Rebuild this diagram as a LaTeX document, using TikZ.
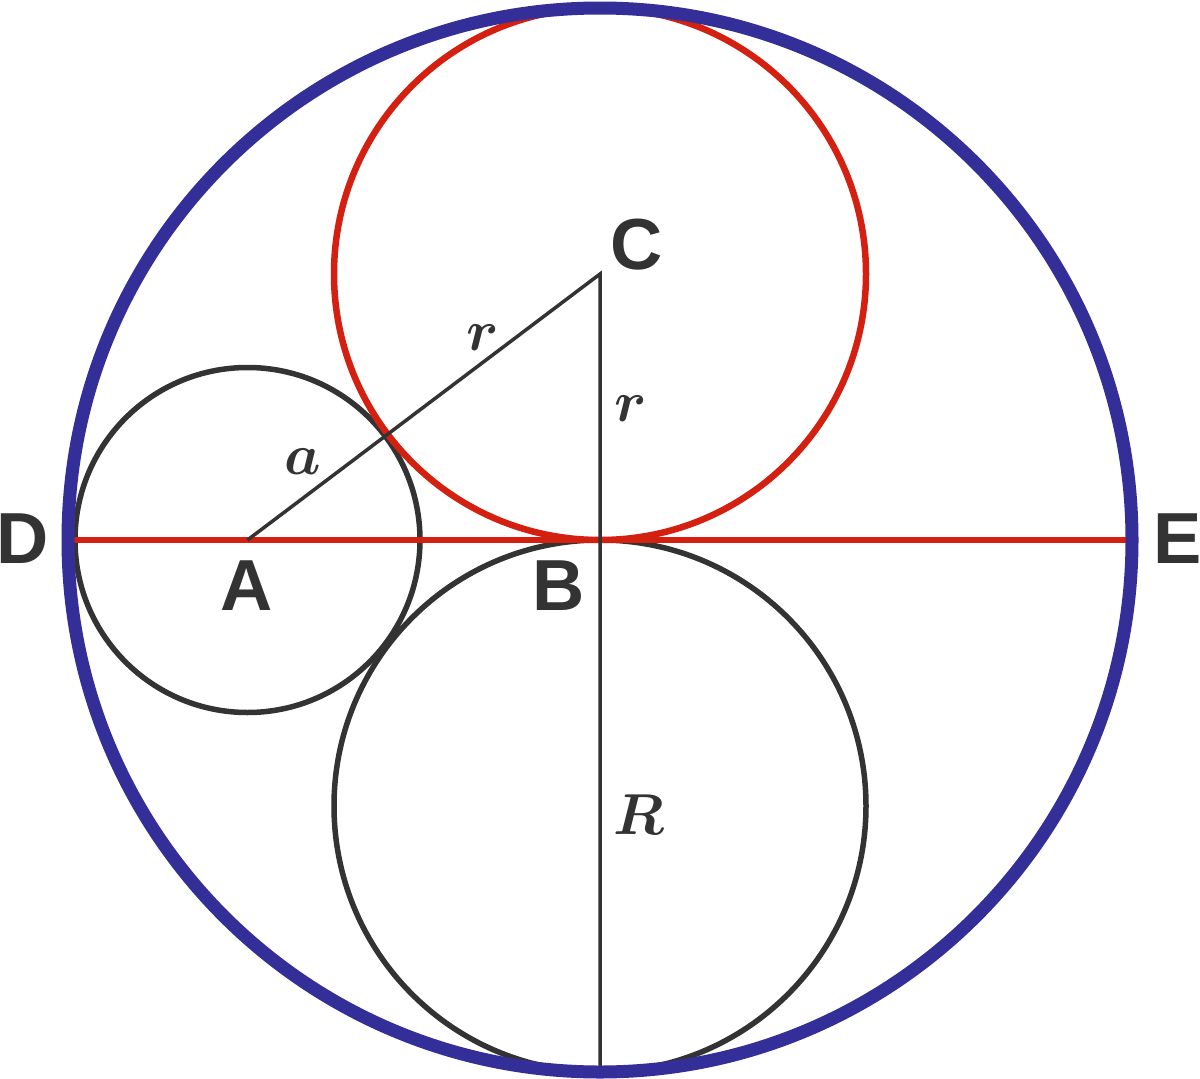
\RequirePackage{fix-cm}
\documentclass[tikz,border=0pt]{standalone}
\usepackage{amsmath,bm}
\usepackage{fontspec}
\newfontfamily\lblfont{Liberation Sans}
\definecolor{bluec}{RGB}{52,46,152}
\definecolor{redc}{RGB}{212,32,16}
\definecolor{ink}{RGB}{51,51,51}
\tikzset{
  bigcircle/.style={draw=bluec, line width=13bp},
  redcircle/.style={draw=redc, line width=6.5bp},
  redline/.style={draw=redc, line width=5.5bp},
  blkcircle/.style={draw=ink, line width=5.5bp},
  thinline/.style={draw=ink, line width=3.5bp},
  lbl/.style={font=\lblfont\bfseries\fontsize{72.6}{80}\selectfont, text=ink, inner sep=0pt},
  mlbl/.style={font=\fontsize{58}{60}\selectfont, text=ink, inner sep=0pt}
}
\begin{document}
\begin{tikzpicture}[x=1bp,y=-1bp]
\useasboundingbox (0,0) rectangle (1200,1079);
\coordinate (O) at (600,540);
\coordinate (A) at (247.5,540);
\coordinate (C) at (600,274);
\coordinate (L) at (600,806);
\coordinate (B) at (600,540);
\coordinate (Dp) at (68,540);
\coordinate (Ep) at (1131,540);
\coordinate (Bot) at (600,1070);
% black circles
\draw[blkcircle] (A) circle (172.5);
\draw[blkcircle] (L) circle (266);
% red diameter and circle
\draw[redline] (Dp) -- (Ep);
\draw[redcircle] (C) circle (266);
% radii
\draw[thinline] (A) -- (C) -- (Bot);
% outer circle
\draw[bigcircle] (O) circle (532);
% labels
\node[lbl] (lA) at (247,586) {A};
\node[lbl] (lB) at (559,586) {B};
\node[lbl] (lC) at (637,245) {C};
\node[lbl] (lD) at (23,539) {D};
\node[lbl] (lE) at (1178,539) {E};
\node[mlbl] (lr1) at (483,338) {$\bm{r}$};
\node[mlbl] (lr2) at (631,409) {$\bm{r}$};
\node[mlbl] (la) at (303,462) {$\bm{a}$};
\node[mlbl] (lR) at (639,815) {$\bm{R}$};
\end{tikzpicture}
\end{document}
